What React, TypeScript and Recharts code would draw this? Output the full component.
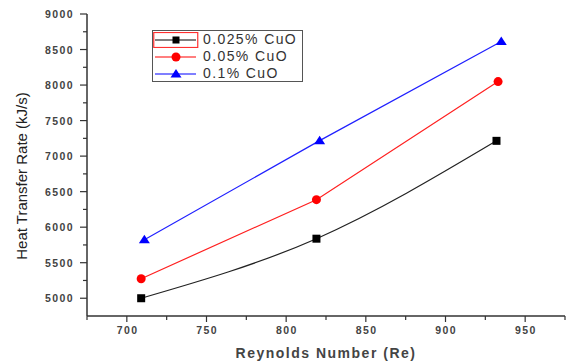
import React from "react";
import { LineChart, Line, XAxis, YAxis, Legend, Label } from "recharts";

const reynolds025 = [709, 819, 932];
const heat025 = [5000, 5838, 7215];
const reynolds05 = [709, 819, 933];
const heat05 = [5275, 6387, 8049];
const reynolds1 = [711, 821, 935];
const heat1 = [5824, 7218, 8613];

const seriesNames = ["0.025% CuO", "0.05% CuO", "0.1% CuO"];
const xTicks = [675, 700, 725, 750, 775, 800, 825, 850, 875, 900, 925, 950, 975];
const yTicks = [5000, 5250, 5500, 5750, 6000, 6250, 6500, 6750, 7000, 7250, 7500, 7750, 8000, 8250, 8500, 8750, 9000];

const zip = (xs: number[], ys: number[]) => xs.map((x, i) => ({ x, y: ys[i] }));
const data025 = zip(reynolds025, heat025);
const data05 = zip(reynolds05, heat05);
const data1 = zip(reynolds1, heat1);

const FONT = 'Arial, "Liberation Sans", sans-serif';
const AXIS = "#333";

const YTick = (props: any) => {
  const { x, y, payload } = props;
  const major = payload.value % 500 === 0;
  return (
    <g>
      <line x1={x} x2={x - (major ? 7 : 4)} y1={y} y2={y} stroke={AXIS} strokeWidth={1.2} />
      {major && (
        <text x={x - 13} y={y + 4} textAnchor="end" fontFamily={FONT} fontSize={10.5} fontWeight="bold" letterSpacing={1.4} fill="#444">
          {payload.value}
        </text>
      )}
    </g>
  );
};

const XTick = (props: any) => {
  const { x, y, payload } = props;
  const major = payload.value % 50 === 0;
  return (
    <g>
      <line x1={x} x2={x} y1={y} y2={y + (major ? 6 : 4)} stroke={AXIS} strokeWidth={1.2} />
      {major && (
        <text x={x + 0.7} y={y + 18} textAnchor="middle" fontFamily={FONT} fontSize={10.5} fontWeight="bold" letterSpacing={1.4} fill="#444">
          {payload.value}
        </text>
      )}
    </g>
  );
};

const Square = (props: any) => {
  const { cx, cy, index } = props;
  return <rect key={`s${index}`} x={cx - 4} y={cy - 4} width={8} height={8} fill="#000" />;
};
const Circle = (props: any) => {
  const { cx, cy, index } = props;
  return <circle key={`c${index}`} cx={cx} cy={cy} r={4.5} fill="#ff0000" />;
};
const Triangle = (props: any) => {
  const { cx, cy, index } = props;
  return (
    <polygon key={`t${index}`} points={`${cx},${cy - 5} ${cx + 5.5},${cy + 3.5} ${cx - 5.5},${cy + 3.5}`} fill="#0000ff" />
  );
};

const markerFor = (i: number, cx: number, cy: number) => {
  if (i === 0) return <rect x={cx - 3.5} y={cy - 3.5} width={7} height={7} fill="#000" />;
  if (i === 1) return <circle cx={cx} cy={cy} r={4.5} fill="#ff0000" />;
  return <polygon points={`${cx},${cy - 5} ${cx + 5.5},${cy + 3.5} ${cx - 5.5},${cy + 3.5}`} fill="#0000ff" />;
};

const legendColors = ["#000000", "#ff0000", "#0000ff"];

const renderLegend = () => (
  <div
    style={{
      width: 149,
      height: 50,
      border: "1.5px solid #555",
      boxSizing: "content-box",
      background: "#fff",
      position: "relative",
    }}
  >
    {seriesNames.map((name, i) => (
      <div key={name} style={{ position: "absolute", left: 0, top: 1 + i * 17, height: 16, width: 149 }}>
        <svg width={46} height={16} style={{ position: "absolute", left: 0, top: 0 }}>
          {i === 0 && <rect x={0.75} y={0.5} width={44} height={15} fill="none" stroke="#ff3030" strokeWidth={1.2} />}
          <line x1={2} x2={43} y1={8} y2={8} stroke={legendColors[i]} strokeWidth={1.2} />
          {markerFor(i, 23, 8)}
        </svg>
        <span
          style={{
            position: "absolute",
            left: 50,
            top: -1,
            fontFamily: FONT,
            fontSize: 14,
            letterSpacing: 1.4,
            color: "#333",
            whiteSpace: "nowrap",
            lineHeight: "17px",
          }}
        >
          {name}
        </span>
      </div>
    ))}
  </div>
);

export default function App() {
  return (
    <div style={{ position: "absolute", left: 0, top: 0, width: 568, height: 363, background: "#fff" }}>
      <LineChart width={568} height={363} margin={{ top: 14, right: 3, left: 0, bottom: 0 }}>
        <XAxis
          type="number"
          dataKey="x"
          domain={[675, 975]}
          ticks={xTicks}
          interval={0}
          allowDataOverflow
          height={47}
          tickSize={0}
          tickMargin={0}
          tickLine={false}
          axisLine={{ stroke: AXIS, strokeWidth: 1.5 }}
          tick={<XTick />}
        >
          <Label
            content={(p: any) => {
              const vb = p.viewBox;
              return (
                <text x={vb.x + vb.width / 2} y={vb.y + 42} textAnchor="middle" fontFamily={FONT} fontSize={14} fontWeight="bold" letterSpacing={1.5} fill="#444">
                  Reynolds Number (Re)
                </text>
              );
            }}
          />
        </XAxis>
        <YAxis
          type="number"
          dataKey="y"
          domain={[4750, 9000]}
          ticks={yTicks}
          interval={0}
          allowDataOverflow
          width={87}
          tickSize={0}
          tickMargin={0}
          tickLine={false}
          axisLine={{ stroke: AXIS, strokeWidth: 1.5 }}
          tick={<YTick />}
        >
          <Label
            content={(p: any) => {
              const vb = p.viewBox;
              const cx = vb.x + 27;
              const cy = vb.y + vb.height / 2 + 11;
              return (
                <text x={cx} y={cy} transform={`rotate(-90 ${cx} ${cy})`} textAnchor="middle" fontFamily={FONT} fontSize={15} fill="#222">
                  Heat Transfer Rate (kJ/s)
                </text>
              );
            }}
          />
        </YAxis>
        <Legend
          layout="horizontal"
          verticalAlign="middle"
          align="center"
          content={renderLegend}
          wrapperStyle={{ position: "absolute", left: 152, top: 30, width: 152, height: 53 }}
        />
        <Line data={data025} dataKey="y" name={seriesNames[0]} type="monotone" stroke="#222" strokeWidth={1.2} dot={<Square />} activeDot={false} isAnimationActive={false} />
        <Line data={data05} dataKey="y" name={seriesNames[1]} type="linear" stroke="#ff2020" strokeWidth={1.2} dot={<Circle />} activeDot={false} isAnimationActive={false} />
        <Line data={data1} dataKey="y" name={seriesNames[2]} type="linear" stroke="#2020ff" strokeWidth={1.2} dot={<Triangle />} activeDot={false} isAnimationActive={false} />
      </LineChart>
    </div>
  );
}
